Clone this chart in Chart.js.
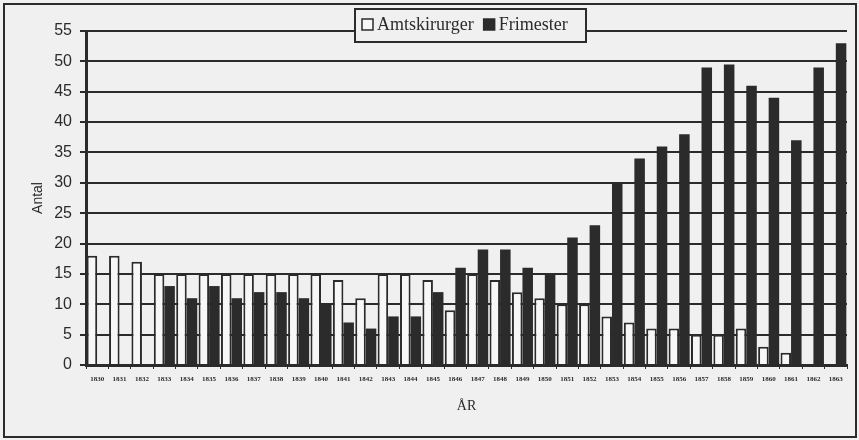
<!DOCTYPE html>
<html>
<head>
<meta charset="utf-8">
<script src="https://cdn.jsdelivr.net/npm/chart.js@4.4.0/dist/chart.umd.min.js"></script>
<style>
  html, body { margin: 0; padding: 0; background: #f0f0f0; }
  canvas { display: block; }
</style>
</head>
<body>
<canvas id="chart" width="859" height="440"></canvas>
<script>
// data
const years = ['1830','1831','1832','1833','1834','1835','1836','1837','1838','1839',
  '1840','1841','1842','1843','1844','1845','1846','1847','1848','1849',
  '1850','1851','1852','1853','1854','1855','1856','1857','1858','1859',
  '1860','1861','1862','1863'];
const amtskirurger = [18, 18, 17, 15, 15, 15, 15, 15, 15, 15,
  15, 14, 11, 15, 15, 14, 9, 15, 14, 12,
  11, 10, 10, 8, 7, 6, 6, 5, 5, 6,
  3, 2, 0, 0];
const frimester = [0, 0, 0, 13, 11, 13, 11, 12, 12, 11,
  10, 7, 6, 8, 8, 12, 16, 19, 19, 16,
  15, 21, 23, 30, 34, 36, 38, 49, 49.5, 46,
  44, 37, 49, 53];
const yMax = 55;
const yStep = 5;

const ink = '#2b2b2b';
const paper = '#f0f0f0';

// background + outer frame
const framePlugin = {
  id: 'frame',
  beforeDraw(chart) {
    const c = chart.ctx;
    c.save();
    c.fillStyle = paper;
    c.fillRect(0, 0, chart.width, chart.height);
    c.restore();
  },
  afterDraw(chart) {
    const c = chart.ctx;
    c.save();
    c.strokeStyle = ink;
    c.lineWidth = 2;
    c.strokeRect(4, 4, 852, 433);
    c.restore();
  }
};

// boxed legend sitting over the top gridline
const boxLegend = {
  id: 'boxLegend',
  afterDatasetsDraw(chart) {
    const c = chart.ctx;
    const ds = chart.data.datasets;
    c.save();
    c.fillStyle = paper;
    c.fillRect(355, 9, 231, 33);
    c.strokeStyle = ink;
    c.lineWidth = 2;
    c.strokeRect(355, 9, 231, 33);
    c.font = '18px "Liberation Serif", serif';
    c.textBaseline = 'middle';
    let x = 362;
    ds.forEach((d) => {
      c.fillStyle = d.backgroundColor;
      c.fillRect(x, 19, 11, 11);
      c.strokeStyle = ink;
      c.lineWidth = 1.5;
      c.strokeRect(x, 19, 11, 11);
      c.fillStyle = ink;
      c.fillText(d.label, x + 15, 25);
      x += 15 + c.measureText(d.label).width + 10;
    });
    c.restore();
  }
};

const ctx = document.getElementById('chart').getContext('2d');
const chart = new Chart(ctx, {
  type: 'bar',
  data: {
    labels: years,
    datasets: [{
      label: 'Amtskirurger',
      data: amtskirurger,
      backgroundColor: '#f7f7f7',
      borderColor: ink,
      borderWidth: 2,
      categoryPercentage: 0.94,
      barPercentage: 1.0
    }, {
      label: 'Frimester',
      data: frimester,
      backgroundColor: ink,
      borderWidth: 0,
      categoryPercentage: 0.94,
      barPercentage: 1.0
    }]
  },
  options: {
    responsive: false,
    devicePixelRatio: 1,
    animation: false,
    layout: { padding: { top: 31, right: 12, bottom: 0, left: 0 } },
    plugins: {
      legend: { display: false },
      tooltip: { enabled: false }
    },
    scales: {
      x: {
        afterFit: (scale) => { scale.height = 75; },
        grid: { display: true, drawOnChartArea: false, drawTicks: true, tickLength: 4, color: ink, lineWidth: 1 },
        border: { display: true, color: ink, width: 3 },
        ticks: {
          autoSkip: false,
          maxRotation: 0,
          padding: 6,
          color: ink,
          font: { family: '"Liberation Serif", serif', size: 7, weight: 'bold' }
        },
        title: {
          display: true,
          text: 'ÅR',
          color: ink,
          padding: { top: 0, bottom: 25 },
          font: { family: '"Liberation Serif", serif', size: 14 }
        }
      },
      y: {
        min: 0,
        max: yMax,
        afterFit: (scale) => { scale.width = 86; },
        grid: { color: ink, lineWidth: 2, tickLength: 6 },
        border: { display: true, color: ink, width: 3 },
        ticks: {
          stepSize: yStep,
          padding: 8,
          color: ink,
          font: { family: '"Liberation Sans Narrow", "Liberation Sans", sans-serif', size: 16 }
        },
        title: {
          display: true,
          text: 'Antal',
          color: ink,
          padding: { top: 30, bottom: 0 },
          font: { family: '"Liberation Sans", sans-serif', size: 14 }
        }
      }
    }
  },
  plugins: [framePlugin, boxLegend]
});
</script>
</body>
</html>
